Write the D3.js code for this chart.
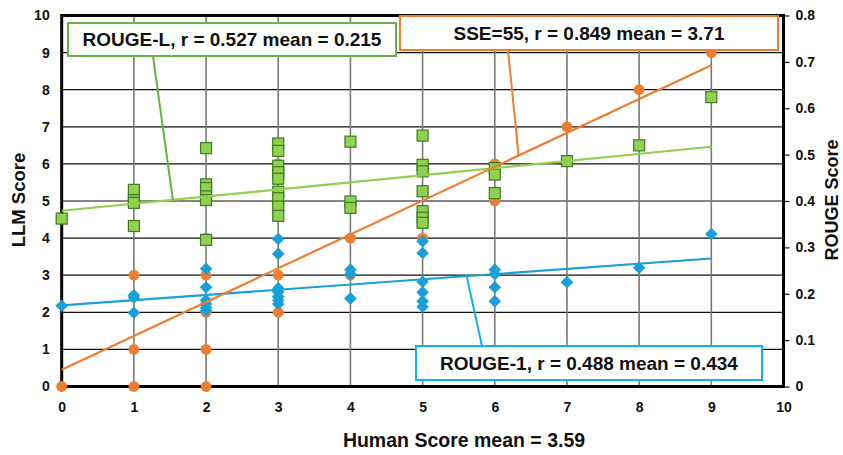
<!DOCTYPE html>
<html><head><meta charset="utf-8">
<script src="https://cdn.jsdelivr.net/npm/d3@7"></script>
<style>body{margin:0;background:#fff}svg{display:block}text{font-family:"Liberation Sans",Arial,sans-serif;font-weight:bold;fill:#111}</style>
</head><body><svg id="c" width="843" height="455"></svg>
<script>
// Data
const xTicks = [0,1,2,3,4,5,6,7,8,9,10];
const yTicks = [0,1,2,3,4,5,6,7,8,9,10];
const rTicks = [0,0.1,0.2,0.3,0.4,0.5,0.6,0.7,0.8];
const sseX = [0, 1,1,1, 2,2,2,2,2, 3,3,3, 4,4, 5,5, 6,6, 7, 8, 9];
const sseY = [0, 0,1,3, 0,1,2,3,4, 2,3,6, 3,4, 4,6, 5,6, 7, 8, 9];
const rougeLX = [0, 1,1,1,1, 2,2,2,2,2,2, 3,3,3,3,3,3,3,3,3, 4,4,4, 5,5,5,5,5,5,5, 6,6,6, 7, 8, 9];
const rougeLY = [0.362, 0.424,0.402,0.396,0.346, 0.514,0.436,0.428,0.410,0.402,0.316,
  0.524,0.508,0.476,0.462,0.448,0.420,0.406,0.388,0.368, 0.528,0.399,0.385,
  0.541,0.478,0.464,0.421,0.378,0.364,0.353, 0.471,0.457,0.417, 0.486, 0.520, 0.624];
const rouge1X = [0, 1,1,1, 2,2,2,2,2,2, 3,3,3,3,3,3,3, 4,4,4, 5,5,5,5,5,5, 6,6,6,6, 7, 8, 9];
const rouge1Y = [0.174, 0.197,0.192,0.159, 0.254,0.214,0.186,0.178,0.170,0.164,
  0.318,0.286,0.212,0.204,0.194,0.186,0.178, 0.252,0.242,0.190,
  0.313,0.288,0.226,0.203,0.184,0.172, 0.252,0.242,0.214,0.184, 0.225, 0.256, 0.329];
const trendX = [0, 9];
const sseTrend = [0.45, 8.66];
const rougeLTrend = [0.379, 0.517];
const rouge1Trend = [0.175, 0.276];
const labels = {sse:"SSE=55, r = 0.849 mean = 3.71", rl:"ROUGE-L, r = 0.527 mean = 0.215", r1:"ROUGE-1, r = 0.488 mean = 0.434"};

const svg = d3.select("#c");
const L=61.7, R=783.5, T=15.5, B=386.5;
const x = d3.scaleLinear().domain([0,10]).range([L,R]);
const y = d3.scaleLinear().domain([0,10]).range([B,T]);
const yr = d3.scaleLinear().domain([0,0.8]).range([B,T]);
const C = {orange:"#ED7D31", green:"#92D050", greenDark:"#3B7D23", blue:"#1A9FD9", cyan:"#12B0EE", greenBox:"#62B640"};

// grid
svg.append("g").selectAll("line").data(yTicks).join("line")
  .attr("x1",L).attr("x2",R).attr("y1",d=>y(d)).attr("y2",d=>y(d))
  .attr("stroke","#111").attr("stroke-width",1.2);
svg.append("g").selectAll("line").data(xTicks).join("line")
  .attr("x1",d=>x(d)).attr("x2",d=>x(d)).attr("y1",T).attr("y2",B)
  .attr("stroke","#7a7a7a").attr("stroke-width",1.6);

// axes
const yAxis = d3.axisLeft(y).tickValues(yTicks).tickSize(0).tickPadding(12);
const gy = svg.append("g").attr("transform",`translate(${L},0)`).call(yAxis);
const xAxis = d3.axisBottom(x).tickValues(xTicks).tickSize(0).tickPadding(16);
const gx = svg.append("g").attr("transform",`translate(0,${B})`).call(xAxis);
const rAxis = d3.axisRight(yr).tickValues(rTicks).tickFormat(d=>d===0?"0":d3.format(".1f")(d)).tickSize(6).tickPadding(6);
const gr = svg.append("g").attr("transform",`translate(${R},0)`).call(rAxis);
[gy,gx,gr].forEach(g=>{g.select(".domain").remove();g.selectAll("text").attr("font-size",14).style("font-family","'Liberation Sans'").style("font-weight","bold").attr("fill","#111");g.selectAll(".tick line").attr("stroke","#111").attr("stroke-width",1.2);});
svg.append("rect").attr("x",L).attr("y",T).attr("width",R-L).attr("height",B-T)
  .attr("fill","none").attr("stroke","#000").attr("stroke-width",3);

// points
svg.append("g").selectAll("circle").data(sseX.map((d,i)=>[d,sseY[i]])).join("circle")
  .attr("cx",d=>x(d[0])).attr("cy",d=>y(d[1])).attr("r",5.4).attr("fill",C.orange);
const sq=11;
svg.append("g").selectAll("rect").data(rougeLX.map((d,i)=>[d,rougeLY[i]])).join("rect")
  .attr("x",d=>x(d[0])-sq/2).attr("y",d=>yr(d[1])-sq/2).attr("width",sq).attr("height",sq)
  .attr("fill",C.green).attr("stroke",C.greenDark).attr("stroke-width",1.2);
const dm=6.3;
svg.append("g").selectAll("path").data(rouge1X.map((d,i)=>[d,rouge1Y[i]])).join("path")
  .attr("d",d=>{const cx=x(d[0]),cy=yr(d[1]);return `M${cx},${cy-dm}L${cx+dm},${cy}L${cx},${cy+dm}L${cx-dm},${cy}Z`;})
  .attr("fill",C.blue);

// trend lines
function tl(vals, sc, col){
  svg.append("line").attr("x1",x(trendX[0])).attr("x2",x(trendX[1]))
   .attr("y1",sc(vals[0])).attr("y2",sc(vals[1])).attr("stroke",col).attr("stroke-width",2.2);
}
tl(rougeLTrend, yr, "#92D050");
tl(rouge1Trend, yr, C.blue);
tl(sseTrend, y, C.orange);
const lerp=(v,t)=>v[0]+(v[1]-v[0])*(t-trendX[0])/(trendX[1]-trendX[0]);

// callouts
function callout(bx,by,bw,bh,col,text,lx1,ly1,tx,ysc,vals){
  svg.append("line").attr("x1",lx1).attr("y1",ly1).attr("x2",x(tx)).attr("y2",ysc(lerp(vals,tx)))
    .attr("stroke",col).attr("stroke-width",2);
  svg.append("rect").attr("x",bx).attr("y",by).attr("width",bw).attr("height",bh)
    .attr("fill","#fff").attr("stroke",col).attr("stroke-width",2);
  svg.append("text").attr("x",bx+bw/2).attr("y",by+bh/2).attr("dy","0.36em")
    .attr("text-anchor","middle").attr("font-size",19).text(text);
}
callout(68,23,328,33,C.greenBox,labels.rl,153,56,1.54,yr,rougeLTrend);
callout(400,16,378,34,C.orange,labels.sse,508,50,6.33,y,sseTrend);
callout(416,346,346,34,C.cyan,labels.r1,482,346,5.61,yr,rouge1Trend);

// axis titles
svg.append("text").attr("transform","translate(25,200) rotate(-90)").attr("text-anchor","middle").attr("font-size",18.5).text("LLM Score");
svg.append("text").attr("transform","translate(838,200) rotate(-90)").attr("text-anchor","middle").attr("font-size",18).text("ROUGE Score");
svg.append("text").attr("x",464).attr("y",446.5).attr("text-anchor","middle").attr("font-size",19.5).text("Human Score mean = 3.59");
</script></body></html>
